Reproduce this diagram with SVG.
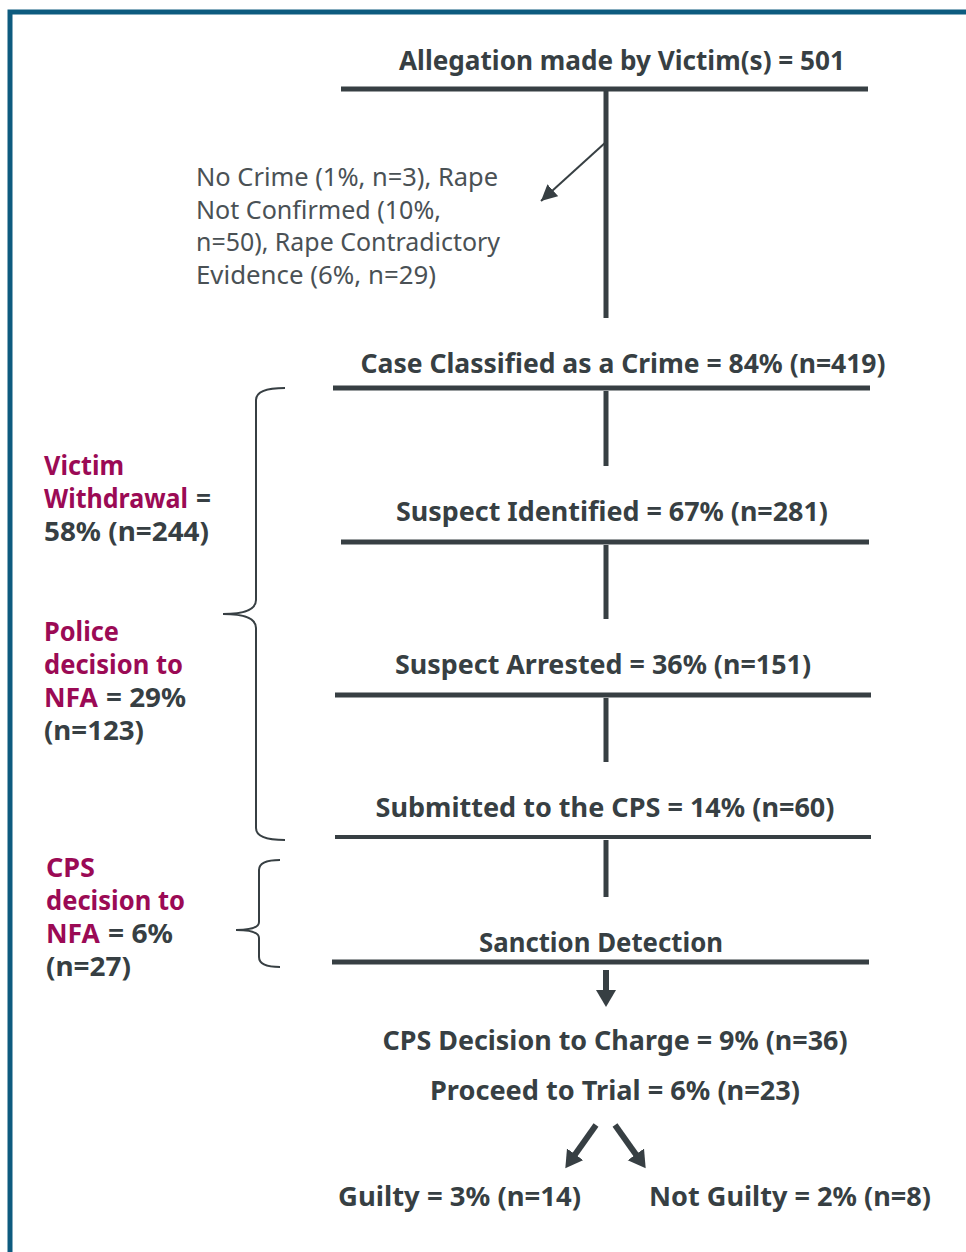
<svg xmlns="http://www.w3.org/2000/svg" width="966" height="1252" viewBox="0 0 966 1252">
<style>
.h{font-family:"Noto Sans","Open Sans",sans-serif;font-weight:bold;font-size:26px;fill:#373f43}
.g{font-family:"Noto Sans","Open Sans",sans-serif;font-size:25px;fill:#4a5155}
.m{fill:#9b0a55}
.bar{stroke:#373f43;stroke-width:5;fill:none}
.v{stroke:#373f43;stroke-width:5;fill:none}
.br{stroke:#373f43;stroke-width:2;fill:none}
.ar{stroke:#373f43;stroke-width:6;fill:none}
</style>
<defs>
<marker id="thin" markerUnits="userSpaceOnUse" markerWidth="20" markerHeight="20" refX="16" refY="8" orient="auto"><path d="M0,0 L16,8 L0,16 Z" fill="#373f43"/></marker>
<marker id="thick" markerUnits="userSpaceOnUse" markerWidth="22" markerHeight="22" refX="2" refY="10" orient="auto"><path d="M0,0 L17,10 L0,20 Z" fill="#373f43"/></marker>
</defs>
<rect width="966" height="1252" fill="#fff"/>
<path d="M10,1252 V12 H966" stroke="#0d5b7f" stroke-width="5" fill="none"/>

<g id="connectors">
<line class="v" x1="606" y1="91" x2="606" y2="318"/>
<line x1="606" y1="142" x2="541" y2="201" stroke="#373f43" stroke-width="2" marker-end="url(#thin)"/>
<line class="v" x1="606" y1="391" x2="606" y2="466"/>
<line class="v" x1="606" y1="545" x2="606" y2="619"/>
<line class="v" x1="606" y1="698" x2="606" y2="762"/>
<line class="v" x1="606" y1="840" x2="606" y2="897"/>
<line class="ar" x1="606" y1="970" x2="606" y2="992" marker-end="url(#thick)"/>
<line class="ar" x1="596" y1="1125" x2="574" y2="1156" marker-end="url(#thick)"/>
<line class="ar" x1="615" y1="1125" x2="637" y2="1156" marker-end="url(#thick)"/>
</g>

<g id="n-allegation">
<text class="h" x="622" y="70" text-anchor="middle" textLength="446" lengthAdjust="spacingAndGlyphs">Allegation made by Victim(s) = 501</text>
<line class="bar" x1="341" y1="89" x2="868" y2="89"/>
</g>
<g id="n-nocrime">
<text class="g" x="196" y="186" textLength="302" lengthAdjust="spacingAndGlyphs">No Crime (1%, n=3), Rape</text>
<text class="g" x="196" y="219" textLength="245" lengthAdjust="spacingAndGlyphs">Not Confirmed (10%,</text>
<text class="g" x="196" y="251" textLength="304" lengthAdjust="spacingAndGlyphs">n=50), Rape Contradictory</text>
<text class="g" x="196" y="284" textLength="240" lengthAdjust="spacingAndGlyphs">Evidence (6%, n=29)</text>
</g>
<g id="n-classified">
<text class="h" x="623" y="373" text-anchor="middle" textLength="525" lengthAdjust="spacingAndGlyphs">Case Classified as a Crime = 84% (n=419)</text>
<line class="bar" x1="333" y1="388" x2="870" y2="388"/>
</g>
<g id="n-identified">
<text class="h" x="612" y="521" text-anchor="middle" textLength="432" lengthAdjust="spacingAndGlyphs">Suspect Identified = 67% (n=281)</text>
<line class="bar" x1="341" y1="542" x2="869" y2="542"/>
</g>
<g id="n-arrested">
<text class="h" x="603" y="674" text-anchor="middle" textLength="416" lengthAdjust="spacingAndGlyphs">Suspect Arrested = 36% (n=151)</text>
<line class="bar" x1="335" y1="695" x2="871" y2="695"/>
</g>
<g id="n-submitted">
<text class="h" x="605" y="817" text-anchor="middle" textLength="459" lengthAdjust="spacingAndGlyphs">Submitted to the CPS = 14% (n=60)</text>
<line class="bar" x1="335" y1="837" x2="871" y2="837" style="stroke-width:4"/>
</g>
<g id="n-sanction">
<text class="h" x="601" y="952" text-anchor="middle" textLength="244" lengthAdjust="spacingAndGlyphs">Sanction Detection</text>
<line class="bar" x1="332" y1="962" x2="869" y2="962"/>
</g>
<g id="n-charge">
<text class="h" x="615" y="1050" text-anchor="middle" textLength="465" lengthAdjust="spacingAndGlyphs">CPS Decision to Charge = 9% (n=36)</text>
</g>
<g id="n-trial">
<text class="h" x="615" y="1100" text-anchor="middle" textLength="370" lengthAdjust="spacingAndGlyphs">Proceed to Trial = 6% (n=23)</text>
</g>
<g id="n-guilty">
<text class="h" x="338" y="1206" textLength="243" lengthAdjust="spacingAndGlyphs">Guilty = 3% (n=14)</text>
</g>
<g id="n-notguilty">
<text class="h" x="649" y="1206" textLength="282" lengthAdjust="spacingAndGlyphs">Not Guilty = 2% (n=8)</text>
</g>

<g id="n-police-attrition">
<path class="br" d="M285,388 Q256,388 256,400 V600 Q256,614 223,614 Q256,614 256,628 V828 Q256,840 285,840"/>
<text class="h m" x="44" y="475" textLength="80" lengthAdjust="spacingAndGlyphs">Victim</text>
<text class="h m" x="44" y="508" textLength="144" lengthAdjust="spacingAndGlyphs">Withdrawal</text>
<text class="h" x="196" y="508" textLength="15" lengthAdjust="spacingAndGlyphs">=</text>
<text class="h" x="44" y="541" textLength="165" lengthAdjust="spacingAndGlyphs">58% (n=244)</text>
<text class="h m" x="44" y="641" textLength="75" lengthAdjust="spacingAndGlyphs">Police</text>
<text class="h m" x="44" y="674" textLength="139" lengthAdjust="spacingAndGlyphs">decision to</text>
<text class="h m" x="44" y="707" textLength="54" lengthAdjust="spacingAndGlyphs">NFA</text>
<text class="h" x="106" y="707" textLength="80" lengthAdjust="spacingAndGlyphs">= 29%</text>
<text class="h" x="44" y="740" textLength="100" lengthAdjust="spacingAndGlyphs">(n=123)</text>
</g>
<g id="n-cps-nfa">
<path class="br" d="M280,860 Q259,860 259,870 V922 Q259,930 236,930 Q259,930 259,938 V957 Q259,967 280,967"/>
<text class="h m" x="46" y="877" textLength="49" lengthAdjust="spacingAndGlyphs">CPS</text>
<text class="h m" x="46" y="910" textLength="139" lengthAdjust="spacingAndGlyphs">decision to</text>
<text class="h m" x="46" y="943" textLength="54" lengthAdjust="spacingAndGlyphs">NFA</text>
<text class="h" x="108" y="943" textLength="65" lengthAdjust="spacingAndGlyphs">= 6%</text>
<text class="h" x="46" y="976" textLength="85" lengthAdjust="spacingAndGlyphs">(n=27)</text>
</g>
</svg>
